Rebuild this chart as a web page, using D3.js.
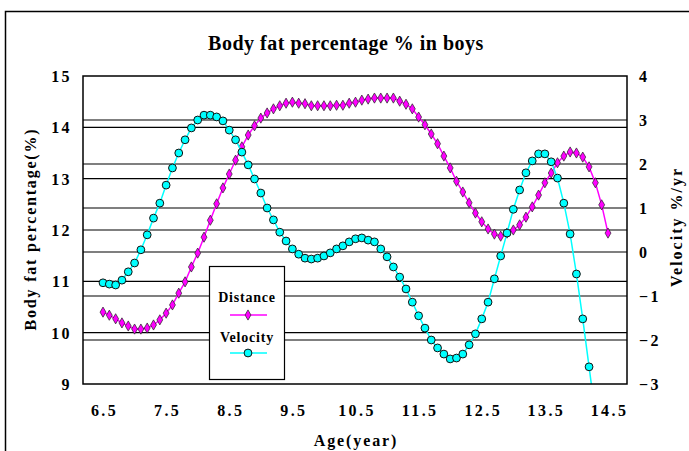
<!DOCTYPE html>
<html><head><meta charset="utf-8">
<script src="https://cdn.jsdelivr.net/npm/d3@7"></script>
<style>
body{margin:0;background:#fff}
svg{display:block}
text{font-family:"Liberation Serif","Times New Roman",serif;font-weight:bold;fill:#000}
</style>
</head><body>
<svg id="c" width="689" height="451"></svg>
<script>
const chartTitle = "Body fat percentage % in boys";
const xTitle = "Age(year)";
const yLeftTitle = "Body fat percentage(%)";
const yRightTitle = "Velocity %/yr";
const seriesNames = ["Distance", "Velocity"];

const ages = [6.5,6.6,6.7,6.8,6.9,7.0,7.1,7.2,7.3,7.4,7.5,7.6,7.7,7.8,7.9,8.0,8.1,8.2,8.3,8.4,
  8.5,8.6,8.7,8.8,8.9,9.0,9.1,9.2,9.3,9.4,9.5,9.6,9.7,9.8,9.9,10.0,10.1,10.2,10.3,10.4,
  10.5,10.6,10.7,10.8,10.9,11.0,11.1,11.2,11.3,11.4,11.5,11.6,11.7,11.8,11.9,12.0,12.1,12.2,12.3,12.4,
  12.5,12.6,12.7,12.8,12.9,13.0,13.1,13.2,13.3,13.4,13.5,13.6,13.7,13.8,13.9,14.0,14.1,14.2,14.3,14.4,14.5];

const distance = [10.40,10.34,10.27,10.19,10.13,10.07,10.07,10.09,10.15,10.25,
  10.38,10.54,10.77,10.99,11.28,11.55,11.86,12.19,12.51,12.82,
  13.09,13.36,13.62,13.85,14.03,14.18,14.28,14.36,14.42,14.47,
  14.49,14.47,14.46,14.42,14.42,14.42,14.42,14.43,14.43,14.47,
  14.49,14.53,14.55,14.57,14.57,14.57,14.57,14.51,14.45,14.36,
  14.20,14.05,13.87,13.68,13.44,13.21,12.95,12.74,12.53,12.33,
  12.16,12.02,11.92,11.88,11.94,12.00,12.10,12.25,12.45,12.68,
  12.92,13.11,13.31,13.44,13.52,13.50,13.42,13.23,12.92,12.49,11.94];

const velocity = [-0.70,-0.73,-0.75,-0.64,-0.45,-0.25,0.05,0.39,0.77,1.11,
  1.52,1.91,2.25,2.55,2.82,3.00,3.11,3.11,3.07,2.98,
  2.77,2.55,2.27,1.98,1.66,1.34,1.00,0.73,0.45,0.25,
  0.07,-0.05,-0.14,-0.16,-0.14,-0.09,-0.02,0.07,0.14,0.23,
  0.30,0.32,0.27,0.23,0.07,-0.11,-0.34,-0.57,-0.84,-1.14,
  -1.45,-1.73,-2.00,-2.18,-2.32,-2.43,-2.41,-2.32,-2.11,-1.86,
  -1.52,-1.14,-0.61,-0.09,0.43,0.97,1.41,1.80,2.07,2.23,
  2.23,2.05,1.68,1.11,0.41,-0.50,-1.52,-2.61,-3.70];

const xTicks = [6.5,7.5,8.5,9.5,10.5,11.5,12.5,13.5,14.5];
const leftTicks = [9,10,11,12,13,14,15];
const rightTicks = [-3,-2,-1,0,1,2,3,4];

const svg = d3.select("#c");
const P = {l:83, r:627, t:76, b:384};

const x = d3.scaleLinear().domain([6.183,14.801]).range([P.l,P.r]);
const yL = d3.scaleLinear().domain([9,15]).range([P.b,P.t]);
const yR = d3.scaleLinear().domain([-3,4]).range([P.b,P.t]);

const SERIF = '"Liberation Serif","Times New Roman",serif';

// outer chart frame
svg.append("rect").attr("x",5.5).attr("y",11.5).attr("width",760).attr("height",520)
  .attr("fill","#fff").attr("stroke","#000").attr("stroke-width",1.5);

// title
svg.append("text").attr("x",346).attr("y",50).attr("text-anchor","middle")
  .style("font-size","20px").style("letter-spacing","0.5px").text(chartTitle);

// gridlines
const grid = svg.append("g");
grid.selectAll("line.gl").data(leftTicks.filter(d=>d>9&&d<15)).join("line")
  .attr("x1",P.l).attr("x2",P.r).attr("y1",d=>yL(d)).attr("y2",d=>yL(d))
  .attr("stroke","#000").attr("stroke-width",1.2);
grid.selectAll("line.gr").data(rightTicks.filter(d=>d>-3&&d<4)).join("line")
  .attr("x1",P.l).attr("x2",P.r).attr("y1",d=>yR(d)).attr("y2",d=>yR(d))
  .attr("stroke","#000").attr("stroke-width",1.2);

function styleTicks(sel){
  sel.attr("font-family",null).attr("font-size",null);
  sel.selectAll("text").style("font-size","16px").style("letter-spacing","2.4px")
    .style("font-family",SERIF).style("font-weight","bold");
}

// axes
const ax = svg.append("g").attr("transform",`translate(0,${P.b})`)
  .call(d3.axisBottom(x).tickValues(xTicks).tickSize(0).tickFormat(d3.format(".1f")));
ax.select(".domain").remove();
styleTicks(ax);
ax.selectAll("text").attr("y",32).attr("dy",0).attr("dx","1px");

const al = svg.append("g").attr("transform",`translate(${P.l},0)`)
  .call(d3.axisLeft(yL).tickValues(leftTicks).tickSize(0).tickFormat(d3.format("d")));
al.select(".domain").remove();
styleTicks(al);
al.selectAll("text").attr("x",-11).attr("dy","0.35em");

const ar = svg.append("g").attr("transform",`translate(${P.r},0)`)
  .call(d3.axisRight(yR).tickValues(rightTicks).tickSize(0).tickFormat(d3.format("d")));
ar.select(".domain").remove();
styleTicks(ar);
ar.selectAll("text").attr("x",12).attr("dy","0.35em");

// axis titles
svg.append("text").attr("x",356).attr("y",446).attr("text-anchor","middle")
  .style("font-size","16px").style("letter-spacing","1.9px").text(xTitle);
svg.append("text").attr("transform","translate(36,229) rotate(-90)").attr("text-anchor","middle")
  .style("font-size","16px").style("letter-spacing","1.8px").text(yLeftTitle);
svg.append("text").attr("transform","translate(682,227) rotate(-90)").attr("text-anchor","middle")
  .style("font-size","16px").style("letter-spacing","2px").text(yRightTitle);

// clip
svg.append("clipPath").attr("id","clip").append("rect")
  .attr("x",P.l).attr("y",P.t).attr("width",P.r-P.l).attr("height",P.b-P.t);

const plot = svg.append("g").attr("clip-path","url(#clip)");

const dData = ages.map((a,i)=>({a, v:distance[i]}));
const vData = velocity.map((v,i)=>({a:ages[i], v}));

const MAG = "#ff00ff", CYA = "#00ffff";
const diamond = d3.symbol().type(d3.symbolDiamond).size(30);

plot.append("path").datum(dData)
  .attr("d", d3.line().x(d=>x(d.a)).y(d=>yL(d.v)))
  .attr("fill","none").attr("stroke",MAG).attr("stroke-width",1.5);
plot.selectAll("path.dm").data(dData).join("path").attr("class","dm")
  .attr("d",diamond).attr("transform",d=>`translate(${x(d.a)},${yL(d.v)})`)
  .attr("fill",MAG).attr("stroke","#222").attr("stroke-width",0.7);

plot.append("path").datum(vData)
  .attr("d", d3.line().x(d=>x(d.a)).y(d=>yR(d.v)))
  .attr("fill","none").attr("stroke",CYA).attr("stroke-width",1.5);
plot.selectAll("circle.vm").data(vData.filter(d=>d.v>=-3)).join("circle").attr("class","vm")
  .attr("cx",d=>x(d.a)).attr("cy",d=>yR(d.v)).attr("r",3.9)
  .attr("fill",CYA).attr("stroke","#111").attr("stroke-width",1);

// plot border
svg.append("rect").attr("x",P.l).attr("y",P.t).attr("width",P.r-P.l).attr("height",P.b-P.t)
  .attr("fill","none").attr("stroke","#000").attr("stroke-width",1.5);

// legend
const lg = svg.append("g");
lg.append("rect").attr("x",209.5).attr("y",266.5).attr("width",75).attr("height",113)
  .attr("fill","#fff").attr("stroke","#000").attr("stroke-width",1.2);
const items = [
  {name:seriesNames[0], color:MAG, ty:302, ly:315, sym:"d"},
  {name:seriesNames[1], color:CYA, ty:342, ly:353, sym:"c"}
];
items.forEach(it=>{
  lg.append("text").attr("x",247).attr("y",it.ty).attr("text-anchor","middle")
    .style("font-size","14px").style("letter-spacing","0.8px").text(it.name);
  lg.append("line").attr("x1",230).attr("x2",267).attr("y1",it.ly).attr("y2",it.ly)
    .attr("stroke",it.color).attr("stroke-width",1.5);
  if (it.sym==="d") {
    lg.append("path").attr("d",diamond).attr("transform",`translate(248,${it.ly})`)
      .attr("fill",it.color).attr("stroke","#222").attr("stroke-width",0.7);
  } else {
    lg.append("circle").attr("cx",248).attr("cy",it.ly).attr("r",3.9)
      .attr("fill",it.color).attr("stroke","#111").attr("stroke-width",1);
  }
});
</script>
</body></html>
